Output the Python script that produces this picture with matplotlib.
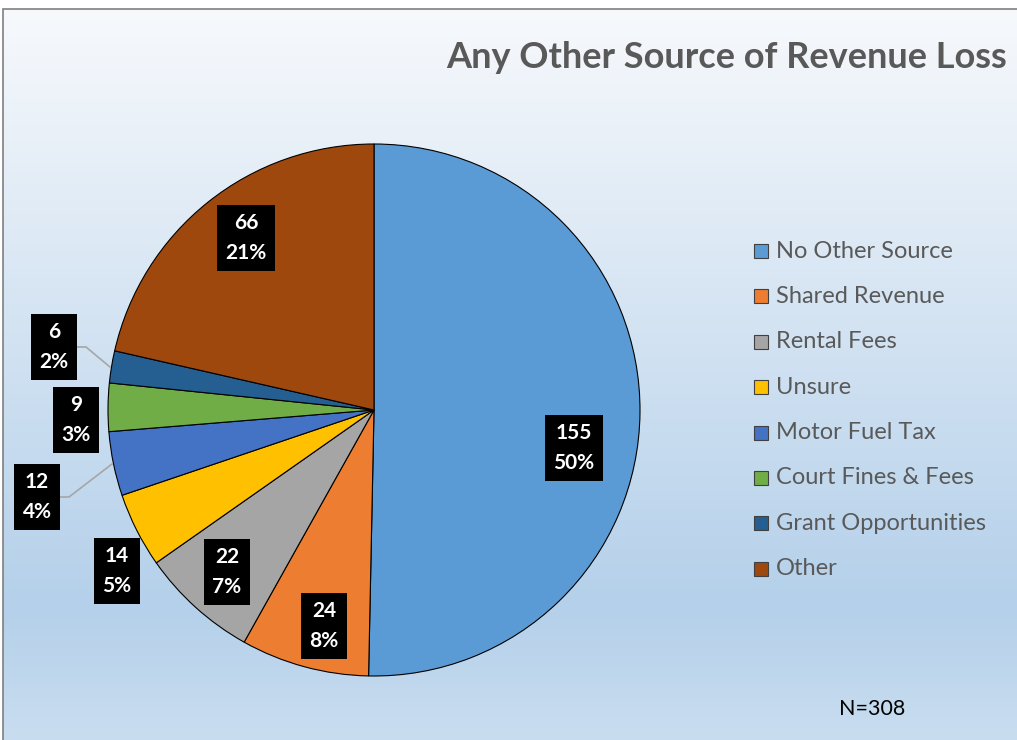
import numpy as np
import matplotlib
matplotlib.use("Agg")
import matplotlib.pyplot as plt
from matplotlib.colors import LinearSegmentedColormap
from matplotlib.patches import Rectangle

categories = ["No Other Source", "Shared Revenue", "Rental Fees", "Unsure",
              "Motor Fuel Tax", "Court Fines & Fees", "Grant Opportunities", "Other"]
counts = [155, 24, 22, 14, 12, 9, 6, 66]
colors = ["#5B9BD5", "#ED7D31", "#A5A5A5", "#FFC000",
          "#4472C4", "#70AD47", "#255E91", "#9E480E"]
total_n = 308

W, H = 1017, 740
plt.rcParams['font.family'] = ['Lato', 'DejaVu Sans']
fig = plt.figure(figsize=(W / 100, H / 100), dpi=100)
ax = fig.add_axes([0, 0, 1, 1])
ax.set_xlim(0, W)
ax.set_ylim(0, H)
ax.set_aspect('equal')
ax.axis('off')

def py(y):
    return H - y

# background gradient
grad = np.linspace(0, 1, 256).reshape(-1, 1)
cmap = LinearSegmentedColormap.from_list(
    "bg", [(0, "#F7F9FC"), (0.82, "#B4D0EA"), (1.0, "#C9DDF0")])
ax.imshow(grad, cmap=cmap, aspect='auto', extent=[3, W + 5, py(H), py(9)],
          zorder=0, interpolation='bicubic')
ax.add_patch(Rectangle((3, py(H + 5)), W + 5, H - 4, fill=False,
                       edgecolor="#7F7F7F", lw=1.2, zorder=1))

# pie
cx, cy, R = 374, 410, 266
wedges, _ = ax.pie(counts, colors=colors, startangle=90, counterclock=False,
                   center=(cx, py(cy)), radius=R,
                   wedgeprops=dict(edgecolor="black", linewidth=0.8))
for w in wedges:
    w.set_zorder(3)
ax.set_xlim(0, W)
ax.set_ylim(0, H)

# data labels (layout positions in pixels)
label_pos = [(574, 448), (324, 626), (227, 572), (117, 571),
             (37, 497), (76, 420), (54, 347), (246, 238)]
for v, (lx, ly) in zip(counts, label_pos):
    pct = round(100 * v / total_n)
    ax.text(lx, py(ly), f"{v}\n{pct}%", ha='center', va='center',
            color='white', fontsize=15, fontweight='bold', linespacing=1.6,
            bbox=dict(boxstyle='square,pad=0.4', facecolor='black',
                      edgecolor='none'), zorder=5)

# leader lines
ax.plot([59, 69, 112], [py(497), py(497), py(464)], color='#A6A6A6', lw=1.2, zorder=4)
ax.plot([76, 86, 110], [py(347), py(347), py(367)], color='#A6A6A6', lw=1.2, zorder=4)

# title
ax.text(727, py(57), "Any Other Source of Revenue Loss", ha='center', va='center',
        fontsize=26, fontweight='bold', color='#595959', zorder=5)

# legend
ly0, dy = 251, 45.4
for i, (c, name) in enumerate(zip(colors, categories)):
    yy = ly0 + i * dy
    ax.add_patch(Rectangle((754, py(yy + 7)), 14, 14, facecolor=c,
                           edgecolor='#404040', lw=0.8, zorder=5))
    ax.text(776, py(yy), name, ha='left', va='center', fontsize=17,
            color='#595959', zorder=5)

ax.text(872, py(709), f"N={total_n}", ha='center', va='center',
        fontsize=15.5, color='black', zorder=5)

fig.savefig("out.png", dpi=100)
